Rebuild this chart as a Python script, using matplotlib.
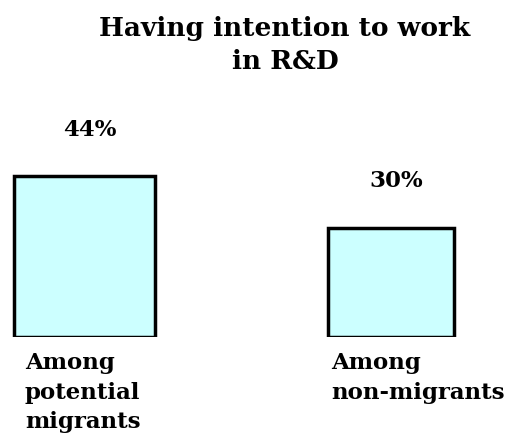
import matplotlib
matplotlib.use("Agg")
import matplotlib.pyplot as plt

# donnees
categories = ["Among\npotential\nmigrants", "Among\nnon-migrants"]
valeurs = [44, 30]
etiquettes = ["44%", "30%"]

plt.rcParams['font.family'] = ['DejaVu Serif']
plt.rcParams['font.weight'] = 'bold'

fig = plt.figure(figsize=(5.28, 4.39), dpi=100)
ax = fig.add_axes([0, 101/439, 1, 338/439])

positions = [0, 1]
ax.bar(positions, valeurs, width=[0.46, 0.41], color='#ccffff',
       edgecolor='black', linewidth=2.5)

for x, v, lab in zip(positions, valeurs, etiquettes):
    ax.annotate(lab, (x, v), xytext=(4, 34), textcoords='offset points',
                ha='center', va='center', fontsize=16.5, fontweight='bold')

# libelles sous les barres, alignes a gauche
for x, cat in zip(positions, categories):
    ax.annotate(cat, (x, 0), xytext=(-43, -10), textcoords='offset points',
                ha='left', va='top', fontsize=16.5, fontweight='bold',
                linespacing=1.45, annotation_clip=False)

ax.set_xlim(-0.276, 1.447)
ax.set_ylim(0, 338/3.65)
ax.set_xticks([])
ax.set_yticks([])
for s in ax.spines.values():
    s.set_visible(False)

fig.text(285/528, 1 - 45/439, "Having intention to work\nin R&D",
         ha='center', va='center', fontsize=19, fontweight='bold',
         linespacing=1.38)

fig.savefig("out.png", dpi=100)
